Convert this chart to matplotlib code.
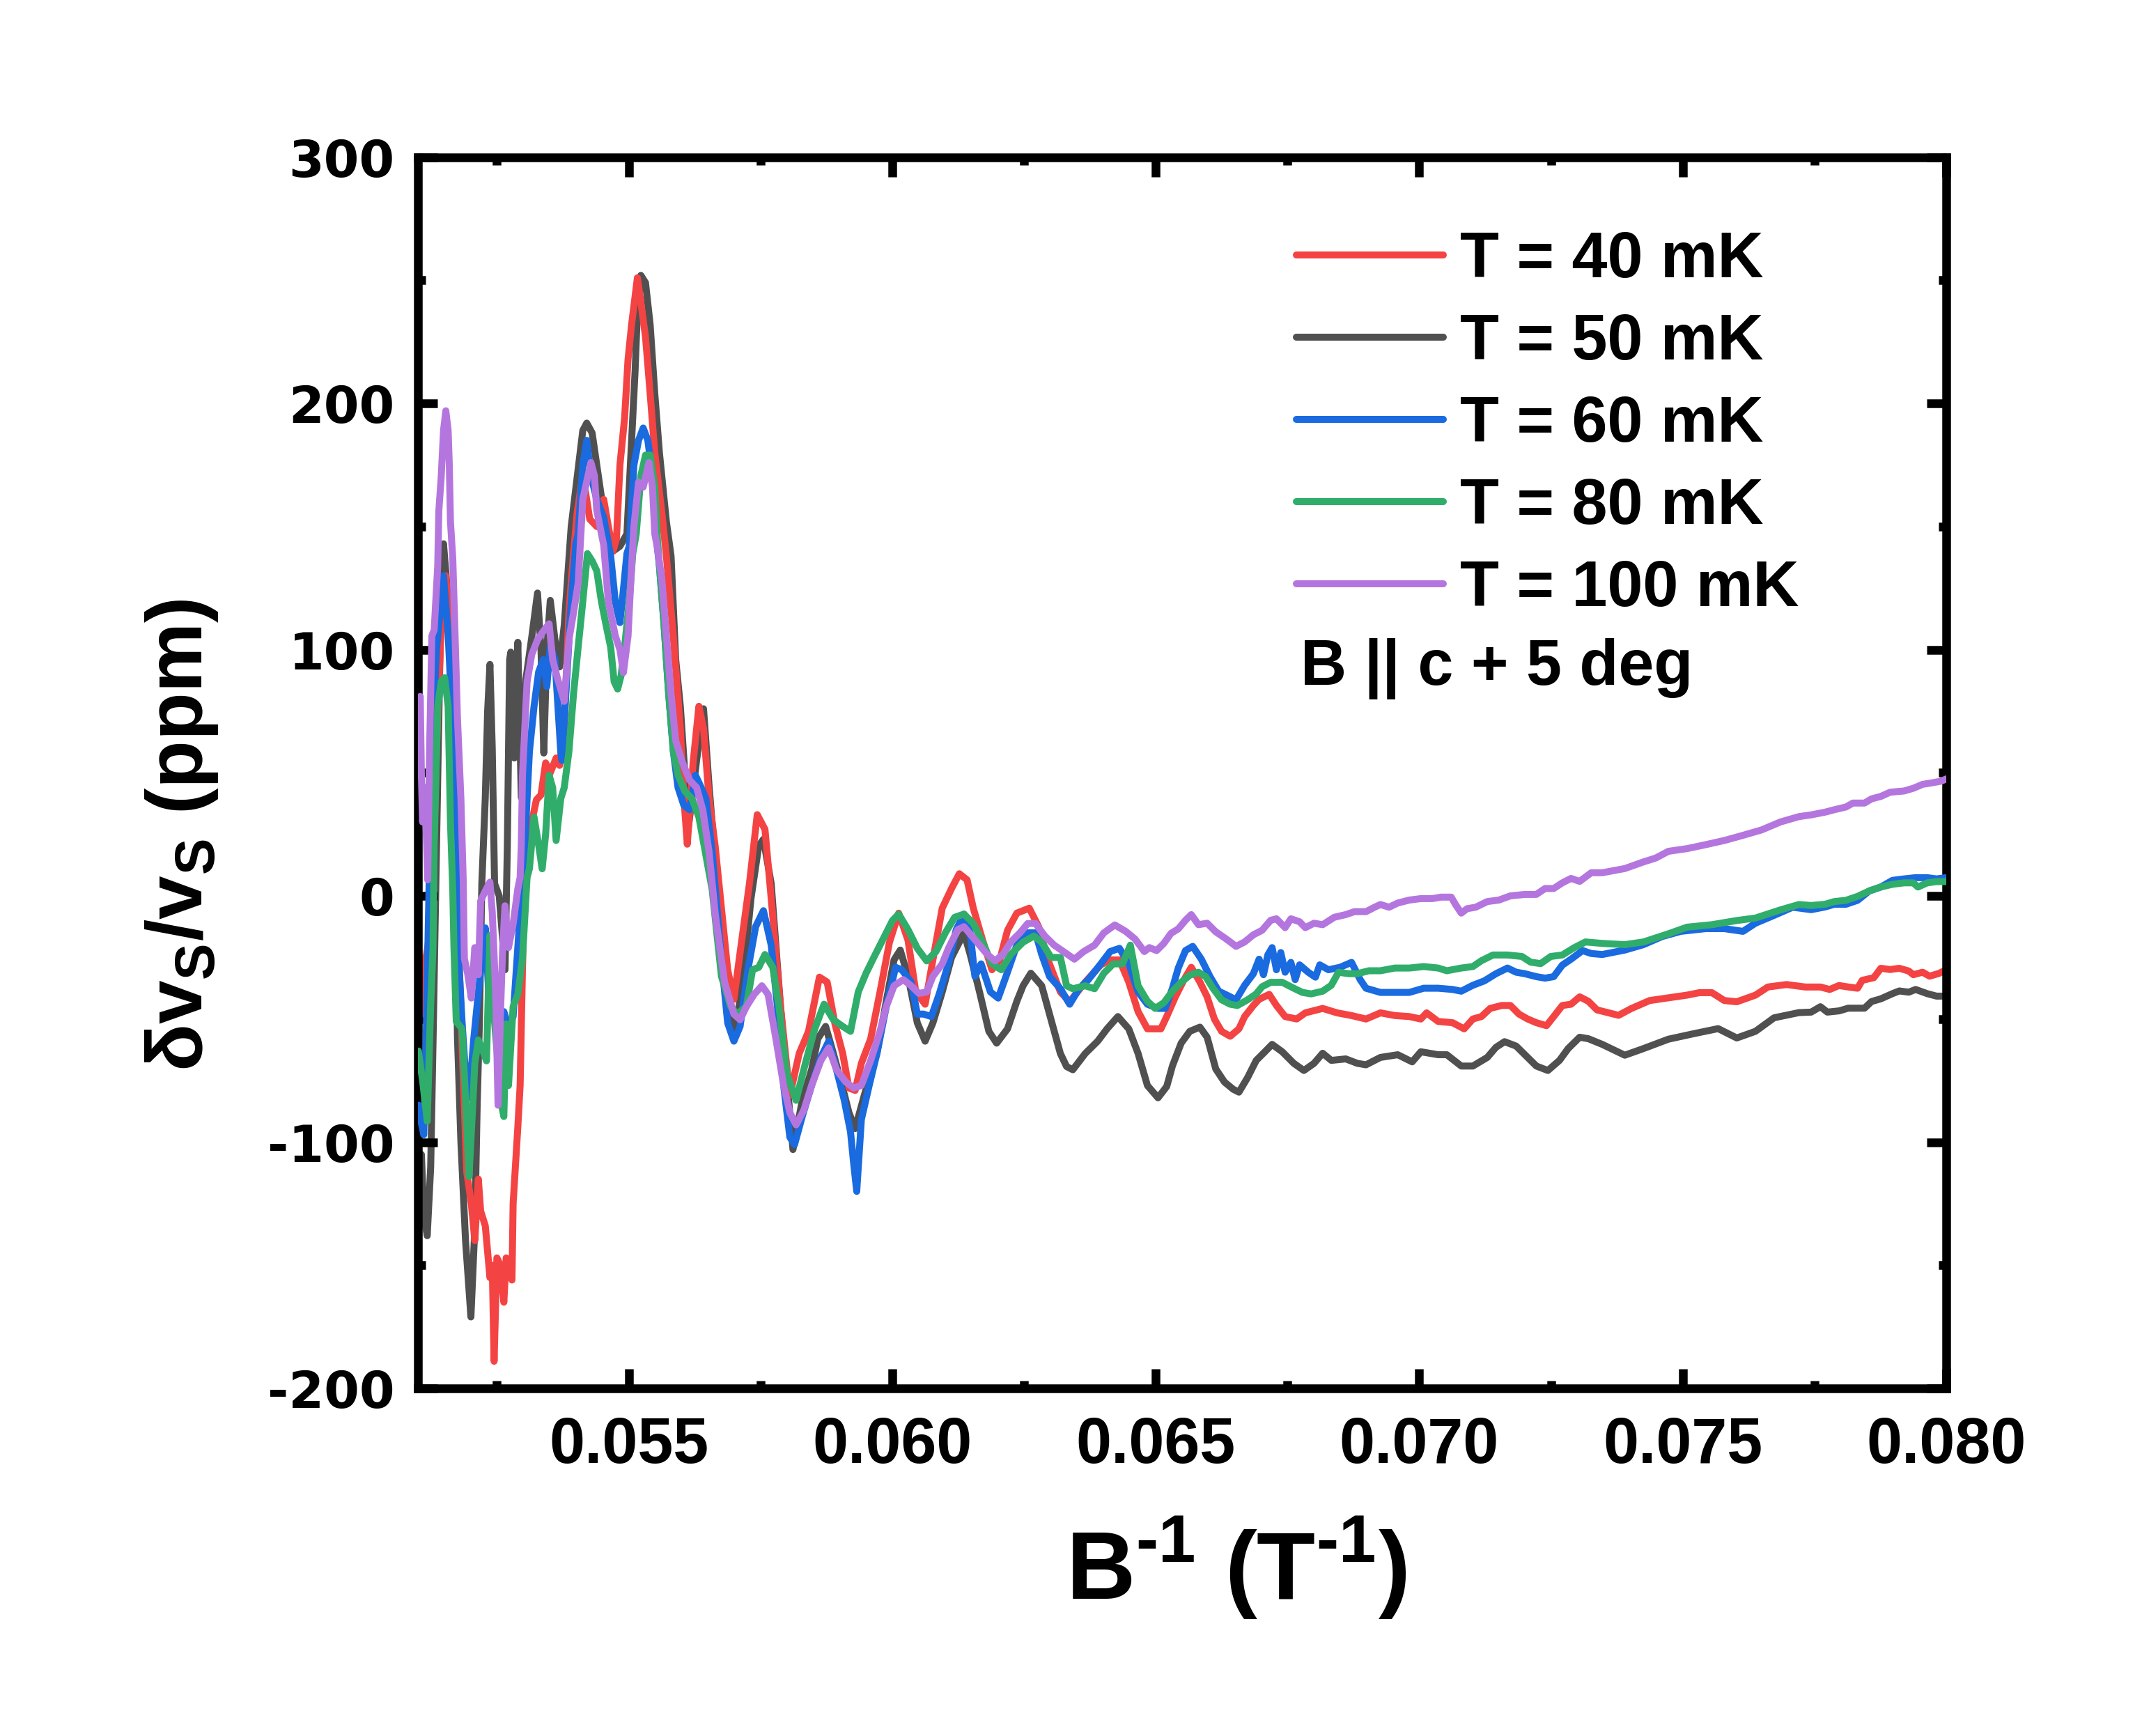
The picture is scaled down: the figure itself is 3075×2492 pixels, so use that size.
import matplotlib
matplotlib.use("Agg")
import matplotlib.pyplot as plt
from matplotlib.ticker import MultipleLocator, FormatStrFormatter

# ── Data (B^-1 in 1/T, dv/v in ppm) ────────────────────────────────────────

red_x = [
    0.051009, 0.051088, 0.051154, 0.051264, 0.051352, 0.051441, 0.051529, 0.051595, 0.051639, 0.051705,
    0.051771, 0.051837, 0.051925, 0.052013, 0.052079, 0.052146, 0.052190, 0.052278, 0.052366, 0.052410,
    0.052445, 0.052498, 0.052564, 0.052630, 0.052674, 0.052740, 0.052784, 0.052806, 0.052895, 0.052939,
    0.052983, 0.053027, 0.053071, 0.053159, 0.053247, 0.053335, 0.053423, 0.053511, 0.053622, 0.053688,
    0.053776, 0.053864, 0.053952, 0.054018, 0.054128, 0.054260, 0.054393, 0.054525, 0.054613, 0.054701,
    0.054767, 0.054833, 0.054921, 0.054987, 0.055054, 0.055164, 0.055230, 0.055318, 0.055406, 0.055494,
    0.055626, 0.055714, 0.055847, 0.055979, 0.056045, 0.056111, 0.056221, 0.056331, 0.056419, 0.056523,
    0.056641, 0.056759, 0.056877, 0.056995, 0.057113, 0.057290, 0.057438, 0.057585, 0.057703, 0.057880,
    0.058057, 0.058234, 0.058411, 0.058618, 0.058765, 0.058913, 0.059060, 0.059178, 0.059296, 0.059414,
    0.059591, 0.059768, 0.059945, 0.060122, 0.060299, 0.060447, 0.060624, 0.060771, 0.060948, 0.061125,
    0.061273, 0.061420, 0.061538, 0.061715, 0.061892, 0.062040, 0.062187, 0.062364, 0.062600, 0.062777,
    0.062954, 0.063190, 0.063367, 0.063662, 0.063957, 0.064134, 0.064311, 0.064488, 0.064665, 0.064842,
    0.065098, 0.065208, 0.065372, 0.065537, 0.065674, 0.065838, 0.065975, 0.066112, 0.066249, 0.066413,
    0.066578, 0.066687, 0.066852, 0.066961, 0.067153, 0.067290, 0.067455, 0.067674, 0.067838, 0.068167,
    0.068441, 0.068715, 0.068989, 0.069263, 0.069537, 0.069811, 0.070030, 0.070140, 0.070359, 0.070633,
    0.070852, 0.071017, 0.071181, 0.071345, 0.071565, 0.071729, 0.071893, 0.072057, 0.072222, 0.072414,
    0.072551, 0.072715, 0.072880, 0.073044, 0.073209, 0.073373, 0.073782, 0.074018, 0.074372, 0.074727,
    0.075081, 0.075317, 0.075553, 0.075789, 0.076025, 0.076379, 0.076615, 0.076969, 0.077323, 0.077612,
    0.077788, 0.077965, 0.078141, 0.078317, 0.078405, 0.078626, 0.078758, 0.078934, 0.079110, 0.079287,
    0.079375, 0.079551, 0.079683, 0.079859, 0.080000,
]
red_y = [
    -20, -48, -25, -10, 60, 110, 130, 110, 92, 40,
    -20, -60, -112, -125, -140, -115, -128, -134, -155, -150,
    -189, -147, -150, -165, -147, -150, -156, -125, -94, -77,
    -30, 7, 25, 30, 39, 41, 54, 50, 56, 53,
    68, 115, 139, 155, 171, 153, 150, 161, 150, 140,
    145, 175, 194, 218, 232, 251, 241, 227, 204, 180,
    156, 138, 105, 68, 40, 21, 54, 77, 68, 40,
    20, -5, -30, -42, -23, 5, 33, 27, -1, -45,
    -81, -64, -55, -33, -35, -52, -64, -78, -79, -68,
    -58, -39, -19, -7, -18, -39, -44, -26, -5, 3,
    9, 6.5, -5, -18, -30, -26, -14, -7, -5, -12.5,
    -26, -39, -43, -35, -28, -26, -26, -35, -47, -54,
    -54, -49, -41, -34, -29, -35, -41, -50, -55, -57,
    -54, -49, -44.5, -42, -40, -44.5, -49, -50, -47.5, -45.7,
    -47.5, -48.6, -50, -47.5, -48.6, -49, -50, -47.5, -51, -51.5,
    -54, -50, -49, -45.7, -44.5, -44.5, -48, -50, -51.5, -52.7,
    -49, -44.5, -44, -41, -42.8, -46.3, -48.5, -45.8, -42.5, -41.4,
    -40.3, -39.3, -39.3, -42.5, -43, -40.3, -37, -36, -37, -37,
    -38, -36.4, -37, -37.5, -34.3, -33.2, -29.4, -29.9, -29.4, -30.5,
    -32, -31, -32.6, -31.5, -30,
]

black_x = [
    0.051009, 0.051066, 0.051110, 0.051176, 0.051242, 0.051286, 0.051352, 0.051419, 0.051485, 0.051573,
    0.051683, 0.051727, 0.051749, 0.051815, 0.051903, 0.052005, 0.052079, 0.052124, 0.052168, 0.052212,
    0.052278, 0.052322, 0.052366, 0.052410, 0.052454, 0.052542, 0.052652, 0.052696, 0.052740, 0.052762,
    0.052828, 0.052895, 0.052961, 0.053049, 0.053159, 0.053269, 0.053335, 0.053388, 0.053445, 0.053511,
    0.053600, 0.053688, 0.053776, 0.053908, 0.054040, 0.054128, 0.054203, 0.054305, 0.054393, 0.054481,
    0.054613, 0.054701, 0.054833, 0.054965, 0.055054, 0.055120, 0.055164, 0.055230, 0.055318, 0.055406,
    0.055494, 0.055582, 0.055714, 0.055803, 0.055891, 0.055979, 0.056133, 0.056287, 0.056419, 0.056523,
    0.056700, 0.056877, 0.057025, 0.057172, 0.057320, 0.057467, 0.057556, 0.057703, 0.057880, 0.058116,
    0.058293, 0.058470, 0.058588, 0.058736, 0.058883, 0.059060, 0.059178, 0.059296, 0.059473, 0.059709,
    0.059886, 0.060034, 0.060152, 0.060299, 0.060476, 0.060624, 0.060771, 0.060948, 0.061125, 0.061273,
    0.061361, 0.061479, 0.061656, 0.061833, 0.061981, 0.062187, 0.062364, 0.062482, 0.062630, 0.062836,
    0.063013, 0.063190, 0.063308, 0.063426, 0.063662, 0.063898, 0.064075, 0.064282, 0.064488, 0.064665,
    0.064842, 0.065043, 0.065208, 0.065317, 0.065482, 0.065646, 0.065838, 0.065975, 0.066139, 0.066304,
    0.066468, 0.066578, 0.066742, 0.066907, 0.067071, 0.067208, 0.067400, 0.067619, 0.067811, 0.068003,
    0.068167, 0.068331, 0.068605, 0.068825, 0.068989, 0.069263, 0.069592, 0.069866, 0.070030, 0.070359,
    0.070523, 0.070797, 0.071017, 0.071291, 0.071455, 0.071619, 0.071839, 0.072057, 0.072222, 0.072441,
    0.072661, 0.072825, 0.073044, 0.073209, 0.073472, 0.073900, 0.074254, 0.074727, 0.075199, 0.075671,
    0.076025, 0.076379, 0.076733, 0.077205, 0.077436, 0.077612, 0.077744, 0.077965, 0.078141, 0.078449,
    0.078582, 0.078758, 0.078978, 0.079110, 0.079287, 0.079419, 0.079639, 0.079815, 0.080000,
]
black_y = [
    -125, -105, -130, -138, -110, -60, 20, 100, 143, 120,
    73, -20, -57, -100, -140, -171, -135, -85, -50, 5,
    40, 75, 94, 60, 5, 0, -30, 20, 96, 99,
    56, 103, 40, 88, 105, 123, 100, 58, 100, 120,
    104, 93, 110, 150, 173.5, 189, 192, 188, 175, 162,
    147, 140, 142, 147, 185, 213, 237, 252, 249, 232,
    204, 180, 152, 138, 96, 77, 28, 55, 76, 45,
    -1, -39, -55, -33, -1, 20.4, 23, 5, -45, -103,
    -83, -70.6, -58, -53, -64, -78, -88, -94.5, -80.7, -64,
    -42.8, -26, -22, -32.7, -51.6, -59, -51.6, -39, -25, -18.8,
    -15, -23.8, -39, -55, -59.8, -54, -42.8, -36.5, -31.4, -36.5,
    -50.3, -64, -69.3, -70.6, -64, -59, -54, -49, -54, -64,
    -77, -82, -77.4, -69, -59.8, -55, -53.3, -57.4, -70.3, -75.6,
    -78.5, -79.7, -73.8, -66.8, -63.3, -60.3, -63.3, -68, -70.9, -68,
    -63.9, -66.8, -66.2, -68, -68.6, -65.6, -64.5, -67.4, -63.3, -64.5,
    -64.5, -69.1, -69.1, -65.6, -61.5, -59.2, -61, -65.6, -69.1, -70.9,
    -66.8, -62, -57.4, -58, -60.3, -64.7, -62, -58.2, -56, -53.9,
    -57.7, -55, -49.5, -47.4, -47.2, -45, -47.2, -46.7, -45.6, -45.6,
    -42.9, -41.8, -39.7, -38.6, -39.1, -38, -39.7, -40.7, -40.7,
]

blue_x = [
    0.051009, 0.051044, 0.051110, 0.051154, 0.051198, 0.051264, 0.051352, 0.051419, 0.051485, 0.051573,
    0.051639, 0.051705, 0.051771, 0.051837, 0.051925, 0.051969, 0.052057, 0.052124, 0.052190, 0.052278,
    0.052366, 0.052432, 0.052542, 0.052630, 0.052718, 0.052806, 0.052895, 0.052983, 0.053027, 0.053115,
    0.053203, 0.053291, 0.053379, 0.053445, 0.053511, 0.053600, 0.053710, 0.053732, 0.053820, 0.053908,
    0.053996, 0.054040, 0.054128, 0.054203, 0.054282, 0.054393, 0.054525, 0.054657, 0.054745, 0.054833,
    0.054899, 0.054965, 0.055009, 0.055098, 0.055186, 0.055274, 0.055362, 0.055450, 0.055516, 0.055582,
    0.055670, 0.055758, 0.055847, 0.055935, 0.056045, 0.056155, 0.056265, 0.056375, 0.056463, 0.056582,
    0.056759, 0.056877, 0.056995, 0.057113, 0.057261, 0.057408, 0.057556, 0.057703, 0.057821, 0.057939,
    0.058057, 0.058146, 0.058293, 0.058470, 0.058647, 0.058795, 0.058942, 0.059090, 0.059208, 0.059267,
    0.059326, 0.059414, 0.059562, 0.059709, 0.059886, 0.060063, 0.060181, 0.060358, 0.060476, 0.060594,
    0.060742, 0.060889, 0.061066, 0.061214, 0.061361, 0.061479, 0.061568, 0.061686, 0.061863, 0.062010,
    0.062158, 0.062364, 0.062571, 0.062718, 0.062836, 0.062984, 0.063190, 0.063367, 0.063544, 0.063721,
    0.063957, 0.064134, 0.064311, 0.064488, 0.064665, 0.064842, 0.065043, 0.065180, 0.065317, 0.065427,
    0.065564, 0.065701, 0.065865, 0.066030, 0.066194, 0.066359, 0.066523, 0.066687, 0.066852, 0.066961,
    0.067044, 0.067126, 0.067208, 0.067290, 0.067372, 0.067455, 0.067564, 0.067646, 0.067729, 0.067893,
    0.068030, 0.068112, 0.068277, 0.068496, 0.068715, 0.068879, 0.068989, 0.069263, 0.069537, 0.069811,
    0.070085, 0.070359, 0.070633, 0.070797, 0.071017, 0.071236, 0.071455, 0.071674, 0.071839, 0.072003,
    0.072222, 0.072387, 0.072551, 0.072715, 0.072880, 0.073099, 0.073263, 0.073472, 0.073900, 0.074254,
    0.074609, 0.074963, 0.075435, 0.075789, 0.076143, 0.076379, 0.076733, 0.077087, 0.077436, 0.077700,
    0.077877, 0.078097, 0.078317, 0.078538, 0.078758, 0.078978, 0.079198, 0.079419, 0.079639, 0.079815,
    0.080000,
]
blue_y = [
    -85, -90, -97, -60, -10, 60, 100, 115, 130, 106,
    77, 39, -25, -51, -80, -82, -58.5, -44, -30, -13,
    -49, -40, -53, -47, -53, -49, -21, 7.5, 20.5, 58.5,
    77, 91, 96, 85, 101, 96, 58.5, 55, 87, 119.6,
    143, 147, 175, 185, 170.6, 161, 153.6, 138, 119.6, 111,
    124.5, 139, 142, 175, 185, 190, 185, 170.6, 147, 134,
    110, 82, 58.5, 44, 36.8, 35, 49, 44, 39.5, 18,
    -26, -51.6, -59, -53, -30, -12.5, -6, -20, -45, -77,
    -98, -101, -89.5, -77, -65.5, -59, -70.6, -83, -95.8, -108.5,
    -120, -90.8, -77, -64, -45, -29, -30, -35, -48, -48,
    -49, -40, -27.6, -13.7, -7.4, -15, -32.7, -27.6, -39, -41.5,
    -32.7, -20, -15, -15, -23.8, -32.7, -37.7, -44, -37.7, -34,
    -27.6, -22.6, -21.3, -27.6, -39, -44, -45.7, -45.7, -37.5, -29.3,
    -22.2, -20.5, -25.7, -32.8, -38.7, -40.4, -42.2, -36.3, -31.6, -25.7,
    -32, -24, -21, -30, -23, -31, -27, -34, -28, -31,
    -33, -28, -30, -29, -27, -34, -37.5, -39.2, -39.2, -39.2,
    -37.5, -37.5, -38, -38.7, -36.3, -34.5, -31.6, -29.3, -31, -31.6,
    -32.8, -33.4, -32.8, -28.1, -25.7, -22.2, -23.4, -23.8, -22, -19.8,
    -16.5, -14.4, -13.3, -13.3, -14.4, -11.1, -7.9, -4.6, -5.6, -4.5,
    -3.4, -3.4, -1.8, 2, 3.6, 6.3, 6.9, 7.4, 7.4, 6.9,
    7.4,
]

green_x = [
    0.051009, 0.051088, 0.051176, 0.051242, 0.051286, 0.051308, 0.051375, 0.051441, 0.051507, 0.051573,
    0.051617, 0.051661, 0.051683, 0.051727, 0.051837, 0.051903, 0.051969, 0.052035, 0.052079, 0.052146,
    0.052234, 0.052300, 0.052366, 0.052410, 0.052586, 0.052630, 0.052674, 0.052718, 0.052806, 0.052895,
    0.052983, 0.053071, 0.053115, 0.053203, 0.053291, 0.053357, 0.053423, 0.053489, 0.053556, 0.053622,
    0.053710, 0.053776, 0.053864, 0.053952, 0.054040, 0.054128, 0.054216, 0.054305, 0.054393, 0.054481,
    0.054569, 0.054657, 0.054723, 0.054789, 0.054855, 0.054921, 0.055009, 0.055076, 0.055142, 0.055230,
    0.055318, 0.055406, 0.055494, 0.055538, 0.055582, 0.055670, 0.055758, 0.055847, 0.055935, 0.056067,
    0.056199, 0.056331, 0.056582, 0.056759, 0.056936, 0.057054, 0.057231, 0.057349, 0.057467, 0.057585,
    0.057733, 0.057851, 0.057998, 0.058175, 0.058352, 0.058529, 0.058706, 0.058883, 0.059060, 0.059208,
    0.059355, 0.059503, 0.059650, 0.059827, 0.060004, 0.060122, 0.060299, 0.060476, 0.060653, 0.060830,
    0.061007, 0.061184, 0.061361, 0.061538, 0.061715, 0.061892, 0.062069, 0.062246, 0.062482, 0.062689,
    0.062836, 0.063013, 0.063190, 0.063308, 0.063426, 0.063662, 0.063839, 0.064016, 0.064193, 0.064370,
    0.064518, 0.064665, 0.064842, 0.064989, 0.065153, 0.065317, 0.065482, 0.065646, 0.065811, 0.065948,
    0.066085, 0.066249, 0.066413, 0.066550, 0.066742, 0.066907, 0.067016, 0.067181, 0.067400, 0.067619,
    0.067783, 0.067948, 0.068167, 0.068331, 0.068468, 0.068660, 0.068825, 0.069044, 0.069263, 0.069537,
    0.069811, 0.070085, 0.070359, 0.070523, 0.070797, 0.071017, 0.071181, 0.071400, 0.071674, 0.071948,
    0.072112, 0.072304, 0.072496, 0.072715, 0.072935, 0.073154, 0.073472, 0.073900, 0.074254, 0.074727,
    0.075081, 0.075553, 0.076025, 0.076379, 0.076851, 0.077205, 0.077436, 0.077700, 0.077877, 0.078097,
    0.078317, 0.078538, 0.078758, 0.078978, 0.079198, 0.079375, 0.079463, 0.079639, 0.079815, 0.080000,
]
green_y = [
    -63, -75, -91.5, -44, -21, 20.5, 77, 87, 88.6, 77,
    30, 2, -21, -51, -54, -82, -114, -87, -68, -58.5,
    -63, -67, -16, -40, -85, -89.6, -52, -77, -45, -40,
    -25.5, 7.5, 11, 32, 20.5, 11, 25, 49, 44, 22.5,
    39.5, 44, 58.5, 82, 101, 119.6, 139, 136, 132, 119.6,
    110, 101, 87, 84, 89.5, 101, 119.6, 139, 147, 170.6,
    179, 179, 166, 147, 134, 110, 82, 58.5, 49, 42.4,
    39.5, 32, 2.7, -32.7, -45, -48, -45, -30, -29, -23.8,
    -29, -45, -72, -83, -68, -54, -44, -50.3, -53, -55,
    -39, -31.4, -25, -17.5, -10, -7.4, -13.7, -21.3, -26.4, -22.6,
    -15, -8.7, -7.4, -11.2, -18.8, -27.6, -30, -23.8, -18.8, -16.3,
    -18.8, -25, -25, -36.5, -37.7, -36.5, -37.7, -31.4, -27.6, -27.6,
    -20, -36.5, -42.8, -45.7, -43.4, -38.7, -35.1, -32.2, -31, -32.8,
    -37.5, -42.2, -44, -44.5, -42.2, -39.8, -36.9, -35.1, -35.1, -37.5,
    -39.2, -39.8, -38.7, -36.3, -31, -31.6, -31.6, -30.4, -30.4, -29.3,
    -29.3, -28.7, -29.3, -30.4, -29.3, -28.7, -26.3, -24, -24, -24.6,
    -26.9, -27.5, -24.6, -24, -21.1, -18.7, -19.3, -19.8, -18.7, -15.4,
    -12.7, -11.7, -10, -9, -5.7, -3.5, -3.9, -3.4, -2.3, -1.8,
    -0.2, 2, 3.6, 4.7, 5.3, 5.3, 3.6, 5.3, 5.8, 5.8,
]

purple_x = [
    0.051009, 0.051044, 0.051066, 0.051088, 0.051132, 0.051185, 0.051220, 0.051264, 0.051308, 0.051375,
    0.051397, 0.051441, 0.051485, 0.051529, 0.051573, 0.051595, 0.051617, 0.051661, 0.051705, 0.051749,
    0.051815, 0.051859, 0.051881, 0.051947, 0.052013, 0.052079, 0.052146, 0.052190, 0.052278, 0.052366,
    0.052410, 0.052476, 0.052520, 0.052564, 0.052608, 0.052652, 0.052718, 0.052806, 0.052895, 0.052939,
    0.052961, 0.052983, 0.053071, 0.053159, 0.053269, 0.053379, 0.053489, 0.053556, 0.053644, 0.053776,
    0.053864, 0.053952, 0.054040, 0.054128, 0.054282, 0.054349, 0.054393, 0.054525, 0.054613, 0.054745,
    0.054833, 0.054899, 0.054987, 0.055032, 0.055098, 0.055186, 0.055274, 0.055384, 0.055450, 0.055494,
    0.055538, 0.055626, 0.055714, 0.055803, 0.055891, 0.056023, 0.056155, 0.056287, 0.056405, 0.056523,
    0.056641, 0.056818, 0.056995, 0.057113, 0.057231, 0.057379, 0.057526, 0.057644, 0.057792, 0.057939,
    0.058057, 0.058175, 0.058323, 0.058470, 0.058647, 0.058795, 0.058942, 0.059119, 0.059267, 0.059414,
    0.059591, 0.059768, 0.059886, 0.060034, 0.060211, 0.060358, 0.060506, 0.060653, 0.060771, 0.060948,
    0.061066, 0.061243, 0.061361, 0.061509, 0.061656, 0.061804, 0.061951, 0.062099, 0.062246, 0.062423,
    0.062571, 0.062718, 0.062895, 0.063072, 0.063249, 0.063456, 0.063632, 0.063839, 0.064016, 0.064223,
    0.064429, 0.064606, 0.064783, 0.064879, 0.065016, 0.065153, 0.065290, 0.065427, 0.065564, 0.065674,
    0.065811, 0.065975, 0.066139, 0.066304, 0.066413, 0.066523, 0.066687, 0.066852, 0.067016, 0.067181,
    0.067290, 0.067455, 0.067564, 0.067729, 0.067838, 0.068003, 0.068167, 0.068386, 0.068605, 0.068770,
    0.068989, 0.069153, 0.069263, 0.069427, 0.069592, 0.069811, 0.070030, 0.070249, 0.070414, 0.070606,
    0.070688, 0.070797, 0.070907, 0.071071, 0.071291, 0.071510, 0.071729, 0.072003, 0.072222, 0.072387,
    0.072551, 0.072715, 0.072880, 0.073044, 0.073263, 0.073472, 0.073900, 0.074254, 0.074490, 0.074727,
    0.075081, 0.075435, 0.075789, 0.076143, 0.076497, 0.076851, 0.077205, 0.077436, 0.077700, 0.077877,
    0.078097, 0.078229, 0.078449, 0.078582, 0.078758, 0.078934, 0.079198, 0.079375, 0.079551, 0.079727,
    0.079903, 0.080000,
]
purple_y = [
    80, 81, 48.6, 30, 44, 6.5, 58.5, 105.6, 108, 134,
    156.6, 170, 189, 197, 189, 175, 152, 137, 105.6, 72.6,
    39.5, 6.5, -25.5, -32, -41.5, -21, -32, -2, 2, 5.6,
    -6.6, -40, -85, -49, -21, -4, -21, -11.4, 2.8, 7.5,
    20.5, 48.6, 87, 98, 104, 107.5, 110.5, 96, 88.6, 79,
    104, 115, 127, 161, 176, 170.6, 156.6, 142.4, 119.6, 105.6,
    100, 90.7, 105.6, 125, 150, 168, 166, 176, 166, 147,
    142, 129, 105.6, 82, 63, 54, 47, 44, 35, 18,
    -7.4, -35, -48, -50.3, -45, -40, -36.5, -40, -58, -77,
    -88, -93, -87, -77, -66.8, -61.7, -70.6, -75.6, -78, -77,
    -66.8, -55, -45, -36.5, -34, -36.5, -39.6, -39, -32.7, -27.6,
    -21.3, -13.7, -12.5, -16.3, -20, -23.8, -26.4, -23.8, -18.8, -15,
    -11.2, -11.2, -16.3, -20, -22.6, -25.7, -22.6, -20, -15, -11.8,
    -14.4, -17.5, -22.6, -21, -22.2, -19.3, -15.2, -13.4, -9.9, -7.6,
    -11.7, -11.1, -14.6, -17, -18.7, -20.5, -18.7, -15.8, -14, -9.9,
    -9.3, -12.9, -9.3, -10.5, -12.9, -11.1, -11.7, -8.7, -7.6, -6.4,
    -6.4, -4.6, -3.5, -4.6, -2.9, -1.7, -1.1, -1.1, -0.5, -0.5,
    -3.5, -7, -5.2, -4.6, -2.3, -1.7, 0, 0.6, 0.6, 3,
    3, 5.3, 7.1, 5.9, 9.4, 9.4, 11.1, 13.8, 15.4, 18.1,
    19.2, 20.8, 22.5, 24.6, 26.8, 30, 32.2, 32.9, 34, 35,
    36.1, 37.7, 37.7, 39.4, 40.4, 42.1, 42.6, 43.7, 45.3, 45.9,
    46.6, 47.5,
]

labels = ["T = 40 mK", "T = 50 mK", "T = 60 mK", "T = 80 mK", "T = 100 mK"]
colors = ["#F44343", "#505050", "#1A6AE0", "#30AD6B", "#B476DE"]
annotation = "B || c + 5 deg"

# ── Figure ───────────────────────────────────────────────────────────────────

plt.rcParams["font.family"] = ["Liberation Sans", "DejaVu Sans"]
plt.rcParams["font.weight"] = "bold"
plt.rcParams["axes.unicode_minus"] = False  # short hyphen on the y ticks

fig = plt.figure(figsize=(10.25, 8.3067), dpi=300)
ax = fig.add_axes([0.19512, 0.20024, 0.7135, 0.70923])

series = [
    (red_x, red_y, 2),
    (black_x, black_y, 1),
    (blue_x, blue_y, 3),
    (green_x, green_y, 4),
    (purple_x, purple_y, 5),
]
handles = []
for (xs, ys, z), col, lab in zip(series, colors, labels):
    ln, = ax.plot(xs, ys, color=col, lw=2.4, zorder=z, label=lab,
                  solid_capstyle="round", solid_joinstyle="round")
    handles.append(ln)

ax.set_xlim(0.051, 0.080)
ax.set_ylim(-200, 300)
ax.xaxis.set_major_locator(MultipleLocator(0.005))
ax.xaxis.set_minor_locator(MultipleLocator(0.0025))
ax.xaxis.set_major_formatter(FormatStrFormatter("%.3f"))
ax.yaxis.set_major_locator(MultipleLocator(100))
ax.yaxis.set_minor_locator(MultipleLocator(50))

ax.tick_params(which="both", direction="in", top=True, right=True, width=3)
ax.tick_params(which="major", length=6.7)
ax.tick_params(which="minor", length=2.7)
ax.tick_params(axis="x", which="major", labelsize=22, pad=9.7)
ax.tick_params(axis="y", which="major", labelsize=17.5, pad=8,
               labelfontfamily="DejaVu Sans")
for sp in ax.spines.values():
    sp.set_linewidth(3)

# superscripts use a hyphen (U+2010) like the original, not a wide minus
ax.set_xlabel("B$^\\mathregular{\u20101}$ (T$^\\mathregular{\u20101}$)", fontsize=33,
              fontweight="bold", va="baseline")
ax.xaxis.set_label_coords(0.5355, -0.171)
ax.set_ylabel(r"δv$_\mathregular{S}$/v$_\mathregular{S}$ (ppm)", fontsize=27,
              fontweight="bold", va="center")
ax.yaxis.set_label_coords(-0.1545, 0.449)

leg = ax.legend(handles=handles, loc="upper left", bbox_to_anchor=(0.6052, 0.8672),
                bbox_transform=fig.transFigure, frameon=False, fontsize=22,
                handlelength=2.3, handletextpad=0.26, labelspacing=0.35,
                borderpad=0, borderaxespad=0)
for t in leg.get_texts():
    t.set_fontweight("bold")

fig.text(0.6072, 0.6055, annotation, fontsize=22, fontweight="bold",
         ha="left", va="baseline")

fig.savefig("out.png", dpi=300)
